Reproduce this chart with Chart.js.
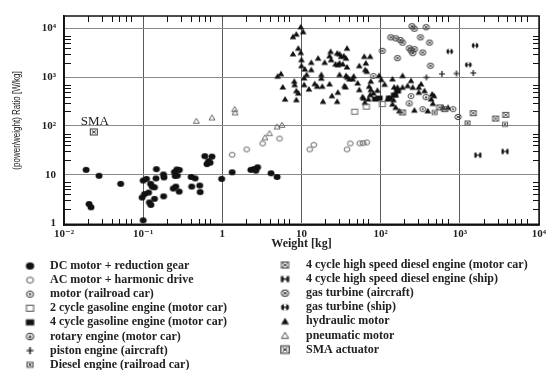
<!DOCTYPE html>
<html>
<head>
<meta charset="utf-8">
<script src="https://cdn.jsdelivr.net/npm/chart.js@4.4.0/dist/chart.umd.min.js"></script>
<style>
    html, body { margin: 0; padding: 0; background: #fff; }
    #wrap { width: 558px; height: 370px; }
</style>
</head>
<body>
<div id="wrap"><canvas id="chart" width="558" height="370"></canvas></div>
<script>
// axis ticks
const xTickValues = [0.01, 0.1, 1, 10, 100, 1000, 10000];
const xTickLabels = ['10⁻²', '10⁻¹', '1', '10', '10²', '10³', '10⁴'];
const yTickValues = [1, 10, 100, 1000, 10000];
const yTickLabels = ['1', '10', '10²', '10³', '10⁴'];
const yTitle = '(power/weight) Ratio [W/kg]';

const seriesLabels = [
    'DC motor + reduction gear',
    'AC motor + harmonic drive',
    'motor (railroad car)',
    '2 cycle gasoline engine (motor car)',
    '4 cycle gasoline engine (motor car)',
    'rotary engine (motor car)',
    'piston engine (aircraft)',
    'Diesel engine (railroad car)',
    '4 cycle high speed diesel engine (motor car)',
    '4 cycle high speed diesel engine (ship)',
    'gas turbine (aircraft)',
    'gas turbine (ship)',
    'hydraulic motor',
    'pneumatic motor',
    'SMA actuator'
];
const smaNote = 'SMA';

// [weight kg, power/weight W/kg]
const dcMotor = [[0.019, 12.6], [0.0207, 2.5], [0.0219, 2.15], [0.0277, 9.5], [0.052, 6.5], [0.1, 1.16],
    [0.1, 7.6], [0.11, 8.2], [0.097, 3.4], [0.104, 4.0], [0.117, 4.3], [0.124, 6.5], [0.13, 5.7],
    [0.139, 5.5], [0.12, 2.7], [0.125, 2.4], [0.139, 3.2], [0.145, 8.4], [0.147, 13], [0.18, 10.1],
    [0.183, 8.8], [0.181, 3.6], [0.24, 5.2], [0.258, 5.7], [0.248, 11.3], [0.266, 12.8], [0.286, 12.5],
    [0.27, 9.6], [0.254, 9.4], [0.285, 4.5], [0.404, 9.0], [0.454, 8.4], [0.41, 5.7], [0.518, 6.0],
    [0.525, 4.4], [0.6, 24], [0.67, 19], [0.74, 23.5], [0.64, 16.5], [0.7, 17.6], [0.98, 8.2],
    [1.33, 11.2], [2.29, 12.6], [2.53, 13.1], [2.79, 14.2], [2.65, 12.1], [4.12, 10.7], [4.92, 9.0]];
const acMotor = [[1.33, 25.6], [2.03, 33], [3.23, 43.7], [5.28, 55], [12.7, 33], [14.3, 41],
    [37.6, 33], [41.4, 43.7], [54.5, 44], [60, 44.5], [66.8, 46]];
const motorRailroad = [[81, 1060], [242, 410], [822, 221], [340, 221]];
const gasoline2 = [[46.9, 196], [66, 249], [105, 281]];
const gasoline4 = [[86, 357], [95.5, 373], [129, 373], [149, 431], [163, 521]];
const rotaryEngine = [[375, 390], [230, 290]];
const pistonEngine = [[378, 990], [594, 1170], [906, 1190], [1480, 1220]];
const dieselRailroad = [[480, 189], [1250, 115], [3720, 108]];
const hsDieselCar = [[189, 189], [556, 240], [644, 221], [1480, 183], [2830, 142], [3800, 169]];
const hsDieselShip = [[1690, 25.2], [3720, 30]];
const gasTurbineAir = [[248, 11100], [267, 9860], [375, 10600], [134, 6560], [155, 6270], [177, 5790],
    [189, 5130], [318, 6560], [414, 5130], [230, 3930], [242, 3530], [254, 3110], [267, 3750],
    [340, 3210], [105, 3470], [163, 2460], [426, 1720], [950, 153]];
const gasTurbineShip = [[745, 3370], [1560, 4460], [1280, 1800]];
const hydraulic = [[9.8, 10800], [10.5, 8570], [8.6, 7660], [7.8, 6790], [9.1, 3930], [7.8, 3010],
    [9.8, 3210], [10, 2280], [10, 1720], [11, 1470], [11.6, 1130], [10.8, 968], [5.5, 1180], [5.8, 630],
    [8.1, 826], [8.2, 703], [8.6, 528], [9.1, 474], [6.2, 356], [8.6, 345], [10.8, 703], [12.4, 572],
    [13.3, 2010], [13.3, 1430], [16.2, 2460], [19.6, 2010], [17.8, 1130], [17.8, 953], [14.7, 738],
    [15.8, 652], [18.3, 652], [22.6, 728], [23.3, 3370], [22.6, 2740], [23.7, 2280], [28.2, 3110],
    [30.2, 3010], [31.6, 2670], [34.2, 2740], [30.2, 1950], [28.8, 1800], [36.5, 2460], [37.6, 1620],
    [37.6, 3930], [30.2, 1130], [18.7, 319], [24.2, 417], [28.8, 490], [34.9, 670], [35.9, 631],
    [40.3, 923], [28.2, 319], [51.2, 762], [53.7, 1720], [62, 2670], [73.7, 2670], [65, 1950],
    [63.8, 1430], [66.8, 1320], [45.6, 1050], [53.7, 555], [75, 826], [71.6, 652], [75, 555],
    [73.7, 437], [81, 474], [60.8, 373], [63.1, 304], [91, 539], [95.5, 1080], [102, 892], [112, 716],
    [148, 631], [155, 437], [145, 345], [128, 373], [141, 923], [163, 621], [189, 1080], [189, 621],
    [219, 670], [242, 851], [254, 621], [324, 728], [303, 621], [358, 528], [447, 452], [456, 290],
    [122, 357], [155, 240], [172, 204], [141, 281], [267, 211], [394, 204], [612, 240], [710, 240],
    [26.9, 1860], [33.2, 1860], [38, 1000], [36.5, 1080], [44.3, 923], [59, 398], [70, 357], [5, 1050],
    [303, 490], [434, 357], [473, 417]];
const pneumatic = [[0.47, 127], [0.74, 149], [1.43, 221], [1.45, 189], [3.45, 58], [3.94, 71],
    [4.92, 97], [5.66, 105]];
const smaActuator = [[0.0238, 75.5]];

const seriesData = [dcMotor, acMotor, motorRailroad, gasoline2, gasoline4, rotaryEngine, pistonEngine,
    dieselRailroad, hsDieselCar, hsDieselShip, gasTurbineAir, gasTurbineShip, hydraulic, pneumatic, smaActuator];

// marker glyphs drawn on small canvases
function makeMarker (draw) {
    const c = document.createElement('canvas');
    c.width = 10;
    c.height = 10;
    const ctx = c.getContext('2d');
    ctx.translate(5, 5);
    ctx.lineWidth = 1;
    draw(ctx);
    return c;
}
function ellipse (ctx, rx, ry) {
    ctx.beginPath();
    ctx.ellipse(0, 0, rx, ry, 0, 0, Math.PI * 2);
}
const ink = '#111';
const grey = '#666';

const markers = [
    makeMarker(ctx => { ellipse(ctx, 3.5, 2.9); ctx.fillStyle = ink; ctx.fill(); }),
    makeMarker(ctx => { ellipse(ctx, 2.9, 2.4); ctx.strokeStyle = grey; ctx.stroke(); }),
    makeMarker(ctx => {
        ellipse(ctx, 3, 2.5); ctx.strokeStyle = '#444'; ctx.stroke();
        ellipse(ctx, 1, 1); ctx.fillStyle = '#444'; ctx.fill();
    }),
    makeMarker(ctx => { ctx.strokeStyle = grey; ctx.strokeRect(-3, -2.5, 6, 5); }),
    makeMarker(ctx => { ctx.fillStyle = ink; ctx.fillRect(-3.5, -2.5, 7, 5); }),
    makeMarker(ctx => {
        ellipse(ctx, 3.2, 2.7); ctx.strokeStyle = '#444'; ctx.stroke();
        ctx.beginPath(); ctx.moveTo(0, -1.5); ctx.lineTo(1.6, 1.2); ctx.lineTo(-1.6, 1.2); ctx.closePath();
        ctx.fillStyle = '#333'; ctx.fill();
    }),
    makeMarker(ctx => {
        ctx.strokeStyle = ink; ctx.lineWidth = 1.2;
        ctx.beginPath(); ctx.moveTo(-3, 0); ctx.lineTo(3, 0); ctx.moveTo(0, -3); ctx.lineTo(0, 3); ctx.stroke();
    }),
    makeMarker(ctx => {
        ctx.strokeStyle = '#555'; ctx.strokeRect(-2.5, -2, 5, 4);
        ctx.beginPath(); ctx.moveTo(-1.2, -1); ctx.lineTo(1.2, 1); ctx.moveTo(1.2, -1); ctx.lineTo(-1.2, 1); ctx.stroke();
    }),
    makeMarker(ctx => {
        ctx.strokeStyle = '#555'; ctx.strokeRect(-3, -2.5, 6, 5);
        ctx.beginPath(); ctx.moveTo(-3, -2.5); ctx.lineTo(3, 2.5); ctx.moveTo(3, -2.5); ctx.lineTo(-3, 2.5); ctx.stroke();
    }),
    makeMarker(ctx => {
        ctx.fillStyle = ink;
        ctx.fillRect(-3.5, -2.5, 2.2, 5); ctx.fillRect(1.3, -2.5, 2.2, 5); ctx.fillRect(-2, -0.6, 4, 1.2);
    }),
    makeMarker(ctx => {
        ellipse(ctx, 3.2, 2.7); ctx.strokeStyle = '#444'; ctx.stroke();
        ctx.beginPath(); ctx.moveTo(-1.8, -1.5); ctx.lineTo(1.8, 1.5); ctx.moveTo(1.8, -1.5); ctx.lineTo(-1.8, 1.5); ctx.stroke();
    }),
    makeMarker(ctx => {
        ellipse(ctx, 3.3, 2.8); ctx.fillStyle = ink; ctx.fill();
        ctx.fillStyle = '#fff'; ctx.fillRect(-1, -2.8, 2, 2.2); ctx.fillRect(-1, 0.6, 2, 2.2);
    }),
    makeMarker(ctx => {
        ctx.beginPath(); ctx.moveTo(0, -2.9); ctx.lineTo(3.3, 2.6); ctx.lineTo(-3.3, 2.6); ctx.closePath();
        ctx.fillStyle = ink; ctx.fill();
    }),
    makeMarker(ctx => {
        ctx.beginPath(); ctx.moveTo(0, -2.6); ctx.lineTo(3, 2.3); ctx.lineTo(-3, 2.3); ctx.closePath();
        ctx.strokeStyle = grey; ctx.stroke();
    }),
    makeMarker(ctx => {
        ctx.strokeStyle = '#333'; ctx.strokeRect(-3.5, -3, 7, 6);
        ctx.beginPath(); ctx.moveTo(-2, -1.5); ctx.lineTo(2, 1.5); ctx.moveTo(2, -1.5); ctx.lineTo(-2, 1.5); ctx.stroke();
    })
];

const serif = '"Liberation Serif", "DejaVu Serif", serif';

// frame, inner minor ticks, y title, SMA note and the two-column legend
const decorPlugin = {
    id: 'decor',
    afterDraw (chart) {
        const { ctx, chartArea: a, scales } = chart;
        const xs = scales.x;
        const ys = scales.y;
        ctx.save();
        ctx.strokeStyle = '#111';
        ctx.lineWidth = 1;
        ctx.beginPath();
        for (let d = -2; d < 4; d++) {
            for (let m = 2; m <= 7; m++) {
                const px = Math.round(xs.getPixelForValue(m * Math.pow(10, d))) + 0.5;
                ctx.moveTo(px, a.bottom); ctx.lineTo(px, a.bottom - 6);
                ctx.moveTo(px, a.top); ctx.lineTo(px, a.top + 6);
            }
        }
        for (let d = 0; d < 4; d++) {
            for (let m = 2; m <= 7; m++) {
                const py = Math.round(ys.getPixelForValue(m * Math.pow(10, d))) + 0.5;
                ctx.moveTo(a.left, py); ctx.lineTo(a.left + 7, py);
                ctx.moveTo(a.right, py); ctx.lineTo(a.right - 6, py);
            }
        }
        ctx.stroke();
        ctx.lineWidth = 1.5;
        ctx.strokeRect(a.left, a.top, a.right - a.left, a.bottom - a.top);

        ctx.fillStyle = '#222';
        ctx.textAlign = 'center';
        ctx.textBaseline = 'middle';

        // narrow y title
        ctx.save();
        ctx.translate(17, (a.top + a.bottom) / 2);
        ctx.rotate(-Math.PI / 2);
        ctx.scale(0.8, 1);
        ctx.font = '10px "Liberation Sans", Arial, sans-serif';
        ctx.fillText(yTitle, 0, 0);
        ctx.restore();

        ctx.font = '13px ' + serif;
        ctx.fillText(smaNote, xs.getPixelForValue(smaActuator[0][0]) + 1, ys.getPixelForValue(smaActuator[0][1]) - 10);

        ctx.font = 'bold 12px ' + serif;
        ctx.textAlign = 'left';
        chart.data.datasets.forEach((d, i) => {
            const leftCol = i < 8;
            const row = leftCol ? i : i - 8;
            const y = (leftCol ? 266 : 265) + row * 14.1;
            const mx = leftCol ? 30 : 285;
            const tx = leftCol ? 50 : 306;
            ctx.drawImage(d.pointStyle, mx - 6, y - 6, 12, 12);
            ctx.fillText(d.label, tx, y);
        });
        ctx.restore();
    }
};

const config = {
    type: 'scatter',
    data: {
        datasets: seriesData.map((pts, i) => ({
            label: seriesLabels[i],
            data: pts.map(p => ({ x: p[0], y: p[1] })),
            pointStyle: markers[i],
            pointRadius: 3,
            showLine: false
        }))
    },
    options: {
        responsive: false,
        animation: false,
        devicePixelRatio: 1,
        layout: { padding: { top: 16, right: 19, bottom: 119, left: 0 } },
        plugins: {
            legend: { display: false },
            tooltip: { enabled: false }
        },
        scales: {
            x: {
                type: 'logarithmic',
                min: 0.01,
                max: 10000,
                afterBuildTicks: scale => { scale.ticks = xTickValues.map(v => ({ value: v })); },
                afterFit: scale => { scale.height = 26; },
                grid: { color: '#5a5a5a', lineWidth: 1, drawTicks: false },
                border: { color: '#111', width: 1.5 },
                ticks: {
                    autoSkip: false,
                    maxRotation: 0,
                    padding: 3,
                    color: '#222',
                    font: { family: serif, size: 11, weight: 'bold' },
                    callback: (value) => xTickLabels[xTickValues.indexOf(value)]
                },
                title: {
                    display: true,
                    text: 'Weight [kg]',
                    color: '#222',
                    padding: 0,
                    font: { family: serif, size: 12, weight: 'bold' }
                }
            },
            y: {
                type: 'logarithmic',
                min: 0.93,
                max: 18000,
                afterBuildTicks: scale => { scale.ticks = yTickValues.map(v => ({ value: v })); },
                afterFit: scale => { scale.width = 64; },
                grid: { color: '#8a8a8a', lineWidth: 1, drawTicks: false },
                border: { color: '#111', width: 1.5 },
                ticks: {
                    autoSkip: false,
                    padding: 8,
                    color: '#222',
                    font: { family: serif, size: 11, weight: 'bold' },
                    callback: (value) => yTickLabels[yTickValues.indexOf(value)]
                }
            }
        }
    },
    plugins: [decorPlugin]
};

new Chart(document.getElementById('chart').getContext('2d'), config);
</script>
</body>
</html>
